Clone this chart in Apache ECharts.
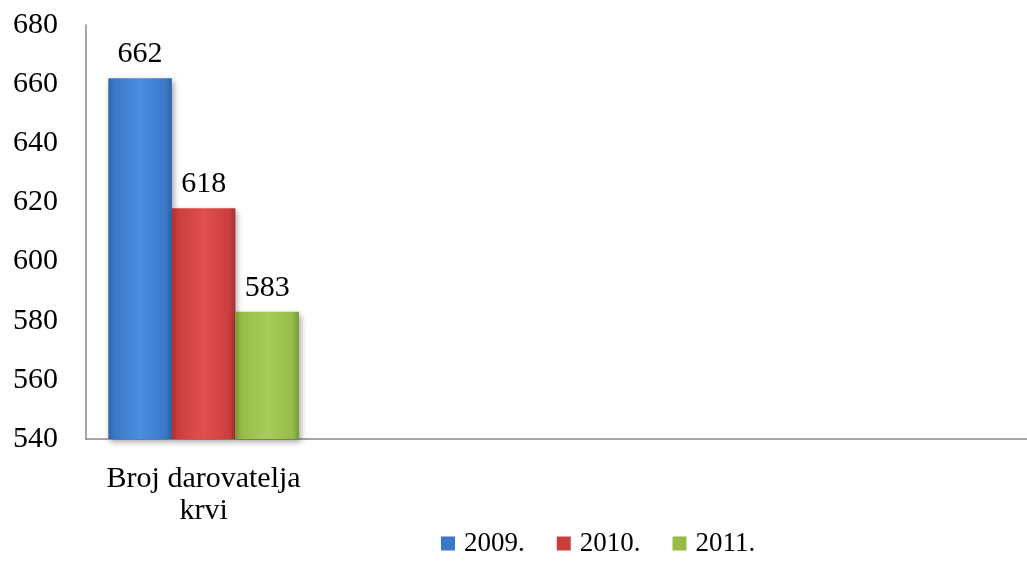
<!DOCTYPE html>
<html><head><meta charset="utf-8">
<script src="https://cdn.jsdelivr.net/npm/echarts@6/dist/echarts.min.js"></script>
<style>html,body{margin:0;padding:0;background:#fff}#c{width:1027px;height:570px}</style>
</head><body><div id="c"></div>
<script>
const categories = ['Broj darovatelja\nkrvi', '', '', ''];
const seriesNames = ['2009.', '2010.', '2011.'];
const values2009 = [662, null, null, null];
const values2010 = [618, null, null, null];
const values2011 = [583, null, null, null];
const colors = [['#4a8ee0', '#3a78c8', '#2e62a8'], ['#e05050', '#cc3e3e', '#a83030'], ['#a8cc5a', '#96bc46', '#789a36']];
function grad(c) {
  return new echarts.graphic.LinearGradient(0, 0, 1, 0, [
    {offset: 0, color: c[2]}, {offset: 0.1, color: c[1]}, {offset: 0.5, color: c[0]}, {offset: 0.9, color: c[1]}, {offset: 1, color: c[2]}
  ]);
}
const font = 'Liberation Serif';
const data = [values2009, values2010, values2011];
const chart = echarts.init(document.getElementById('c'));
chart.setOption({
  animation: false,
  textStyle: {fontFamily: font},
  grid: {left: 86, right: 0, top: 25, bottom: 131, containLabel: false, outerBoundsMode: 'none'},
  legend: {
    bottom: 8, left: 436, itemWidth: 14, itemHeight: 14, itemGap: 32,
    textStyle: {fontFamily: font, fontSize: 27, color: '#000', padding: [0, 0, 0, 4]},
    data: seriesNames.map((n, i) => ({name: n, icon: 'rect', itemStyle: {color: colors[i][1]}}))
  },
  xAxis: {
    type: 'category', data: categories,
    axisLine: {lineStyle: {color: '#888', width: 1.5}},
    axisTick: {show: false},
    axisLabel: {fontFamily: font, fontSize: 30, color: '#000', lineHeight: 32, margin: 24, interval: 0}
  },
  yAxis: {
    type: 'value', min: 540, max: 680, interval: 20,
    axisLine: {show: true, lineStyle: {color: '#888', width: 1.5}},
    axisTick: {show: false},
    splitLine: {show: false},
    axisLabel: {fontFamily: font, fontSize: 30, color: '#000', margin: 28}
  },
  series: seriesNames.map((n, i) => ({
    name: n, type: 'bar', data: data[i], barGap: '0%', barCategoryGap: '19%',
    itemStyle: {color: grad(colors[i]), shadowColor: 'rgba(0,0,0,0.35)', shadowBlur: 6, shadowOffsetX: 2, shadowOffsetY: 3},
    label: {show: true, position: 'top', distance: 9, fontFamily: font, fontSize: 30, color: '#000'}
  }))
});
</script></body></html>
